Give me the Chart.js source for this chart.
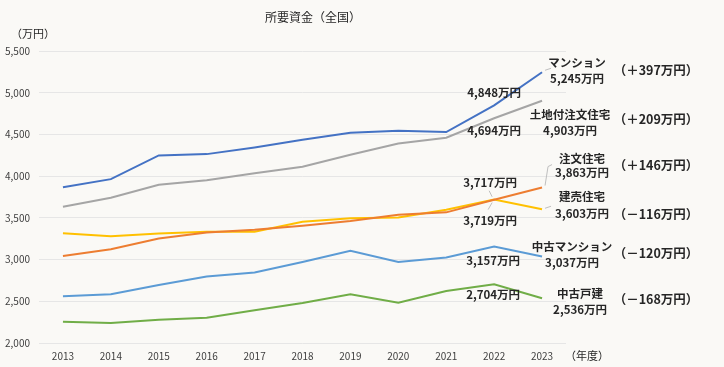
<!DOCTYPE html>
<html><head><meta charset="utf-8">
<script src="https://cdn.jsdelivr.net/npm/chart.js@4/dist/chart.umd.min.js"></script>
<style>html,body{margin:0;padding:0;background:#FAF9F6;}#wrap{width:724px;height:367px;}</style>
</head><body><div id="wrap"><canvas id="c" width="724" height="367"></canvas></div>
<script>
const years = ['2013','2014','2015','2016','2017','2018','2019','2020','2021','2022','2023'];
const mansion      = [3866,3964,4248,4264,4344,4436,4521,4545,4528,4848,5245];
const landCustom   = [3632,3740,3896,3952,4036,4112,4257,4392,4460,4694,4903];
const customHome   = [3044,3124,3252,3324,3356,3404,3462,3536,3566,3717,3863];
const readyBuilt   = [3316,3280,3312,3332,3334,3452,3494,3504,3596,3719,3603];
const usedMansion  = [2560,2584,2696,2796,2844,2972,3104,2972,3024,3157,3037];
const usedHouse    = [2256,2240,2280,2304,2392,2480,2584,2484,2624,2704,2536];
const seriesNames  = ['マンション','土地付注文住宅','注文住宅','建売住宅','中古マンション','中古戸建'];
const yTicks = [2000,2500,3000,3500,4000,4500,5000,5500];

const colors = ['#4472C4','#A5A5A5','#ED7D31','#FFC000','#5B9BD5','#70AD47'];
const allSeries = [mansion, landCustom, customHome, readyBuilt, usedMansion, usedHouse];

const fmt = v => v.toLocaleString('en-US');
const JP = '"Noto Sans CJK JP", "Noto Sans", sans-serif';

// label placement offsets (pixels) relative to the data points
const endPlace = [
  {dx:35, nameDy:-10, valDy:6,  diffDy:-2},
  {dx:28, nameDy:14,  valDy:30, diffDy:18},
  {dx:40, nameDy:-29, valDy:-15,diffDy:-22},
  {dx:40, nameDy:-13, valDy:4,  diffDy:5},
  {dx:30, nameDy:-10, valDy:6,  diffDy:-3},
  {dx:38, nameDy:-5,  valDy:11, diffDy:1}
];
const prevPlace = [
  {dx:0, dy:-13},{dx:0, dy:12},{dx:-4, dy:-17},{dx:-4, dy:21},{dx:-1, dy:14},{dx:-1, dy:10}
];
const leaders = [
  {s:0, i:10, pts:[[3,-2],[9,-4]]},
  {s:2, i:10, pts:[[3,-2],[6,-21],[10,-23]]},
  {s:3, i:10, pts:[[3,-1],[9,-3]]},
  {s:2, i:9,  pts:[[-2,-3],[-5,-9]]},
  {s:3, i:9,  pts:[[-2,3],[-6,10]]}
];

const annot = {
  id:'annot',
  beforeDraw(chart){
    const c = chart.ctx; c.save(); c.fillStyle='#FAF9F6'; c.fillRect(0,0,chart.width,chart.height); c.restore();
  },
  afterDatasetsDraw(chart){
    const c = chart.ctx, xs = chart.scales.x, ys = chart.scales.y;
    const last = years.length-1, prev = last-1;
    c.save();
    c.strokeStyle = '#BFBFBF'; c.lineWidth = 1;
    leaders.forEach(L=>{
      const px = xs.getPixelForValue(L.i), py = ys.getPixelForValue(allSeries[L.s][L.i]);
      c.beginPath();
      L.pts.forEach((p,k)=>{ k? c.lineTo(px+p[0],py+p[1]) : c.moveTo(px+p[0],py+p[1]); });
      c.stroke();
    });
    c.fillStyle = '#262626';
    c.textAlign = 'center'; c.textBaseline = 'middle';
    c.font = '12px '+JP;
    c.fillText('所要資金（全国）', 313, 17);
    c.font = '11px '+JP;
    c.fillText('（万円）', 33, 34);
    c.fillText('（年度）', 587, 356);
    allSeries.forEach((arr,s)=>{
      const xe = xs.getPixelForValue(last), ye = ys.getPixelForValue(arr[last]);
      const xp = xs.getPixelForValue(prev), yp = ys.getPixelForValue(arr[prev]);
      const e = endPlace[s], p = prevPlace[s];
      c.font = 'bold 11.5px '+JP;
      c.fillText(seriesNames[s], xe+e.dx, ye+e.nameDy);
      c.fillText(fmt(arr[last])+'万円', xe+e.dx, ye+e.valDy);
      c.fillText(fmt(arr[prev])+'万円', xp+p.dx, yp+p.dy);
      const d = arr[last]-arr[prev];
      c.font = 'bold 12.5px '+JP;
      c.fillText('（'+(d>=0?'＋':'－')+Math.abs(d)+'万円）', 656, ye+e.diffDy);
    });
    c.restore();
  }
};

new Chart(document.getElementById('c'), {
  type:'line',
  data:{
    labels: years,
    datasets: allSeries.map((arr,s)=>({
      label: seriesNames[s], data: arr, borderColor: colors[s], backgroundColor: colors[s],
      borderWidth: 2, pointRadius: 0, tension: 0, fill:false
    }))
  },
  options:{
    responsive:false, animation:false, devicePixelRatio:1,
    layout:{padding:{left:0, top:51, right:158, bottom:0}},
    plugins:{legend:{display:false}, tooltip:{enabled:false}, title:{display:false}},
    scales:{
      x:{
        offset:true,
        grid:{display:false, drawTicks:false, offset:true}, border:{display:false},
        ticks:{padding:7, color:'#404040', font:{family:JP, size:10}, maxRotation:0, autoSkip:false},
        afterFit(a){ a.height = 24; }
      },
      y:{
        min:2000, max:5500,
        afterBuildTicks(a){ a.ticks = yTicks.map(v=>({value:v})); },
        grid:{color:'#E6E6E6', lineWidth:1, drawTicks:false}, border:{display:false},
        ticks:{padding:9, color:'#404040', font:{family:JP, size:10}, callback:v=>fmt(v)},
        afterFit(a){ a.width = 39; }
      }
    }
  },
  plugins:[annot]
});
</script></body></html>
